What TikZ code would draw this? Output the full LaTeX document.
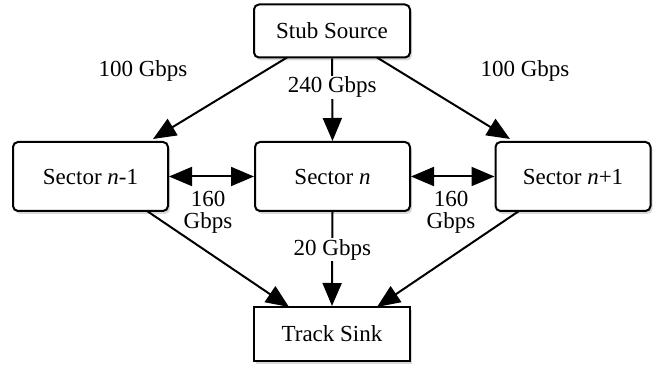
\documentclass[tikz,border=0pt]{standalone}
\usepackage{fontspec}
\setmainfont{Liberation Serif}
\usetikzlibrary{arrows.meta,shadows}
\begin{document}
\begin{tikzpicture}[x=1pt,y=-1pt,
  every node/.style={font=\rmfamily\fontsize{23}{25}\selectfont},
  box/.style={draw, line width=2pt, fill=white, inner sep=0pt,
    drop shadow={opacity=0.3, shadow xshift=2pt, shadow yshift=-3pt}},
  rbox/.style={box, rounded corners=5pt},
  link/.style={line width=2pt, -{Triangle[length=23pt,width=19pt]}},
  dlink/.style={line width=2pt, {Triangle[length=23pt,width=19pt]}-{Triangle[length=23pt,width=19pt]}},
  lbl/.style={fill=white, inner sep=1pt, align=center}]
\path[use as bounding box, fill=white] (0,0) rectangle (657,366);
\node[rbox, minimum width=156pt, minimum height=53pt] (src) at (332,31) {Stub Source};
\node[rbox, minimum width=155pt, minimum height=69pt] (sm) at (90.5,176.5) {Sector \textit{n}-1};
\node[rbox, minimum width=155pt, minimum height=69pt] (sn) at (332.5,176.5) {Sector \textit{n}};
\node[rbox, minimum width=155pt, minimum height=69pt] (sp) at (573,176.5) {Sector \textit{n}+1};
\node[box, minimum width=156pt, minimum height=54pt] (snk) at (332,334) {Track Sink};
% top arrows
\coordinate (tl) at (153,139);
\coordinate (tr) at (510,139);
\draw[link] (287,57.5) -- (tl);
\draw[link] (377,57.5) -- (tr);
\draw[link] (src.south) -- (sn.north) node[lbl, pos=0.35] {240 Gbps};
\node at (143,71) (l1) {100 Gbps};
\node at (525,71) (l2) {100 Gbps};
% horizontal
\draw[dlink] (sm.east) -- (sn.west);
\draw[dlink] (sn.east) -- (sp.west);
\node[align=center, inner sep=0pt] (h1) at (208,212) {160\\[-3pt]Gbps};
\node[align=center, inner sep=0pt] (h2) at (451,212) {160\\[-3pt]Gbps};
% bottom
\draw[link] (147,211) -- (289,307);
\draw[link] (519,211) -- (377,307);
\draw[link] (sn.south) -- (snk.north) node[lbl, pos=0.4] {20 Gbps};
\end{tikzpicture}
\end{document}
